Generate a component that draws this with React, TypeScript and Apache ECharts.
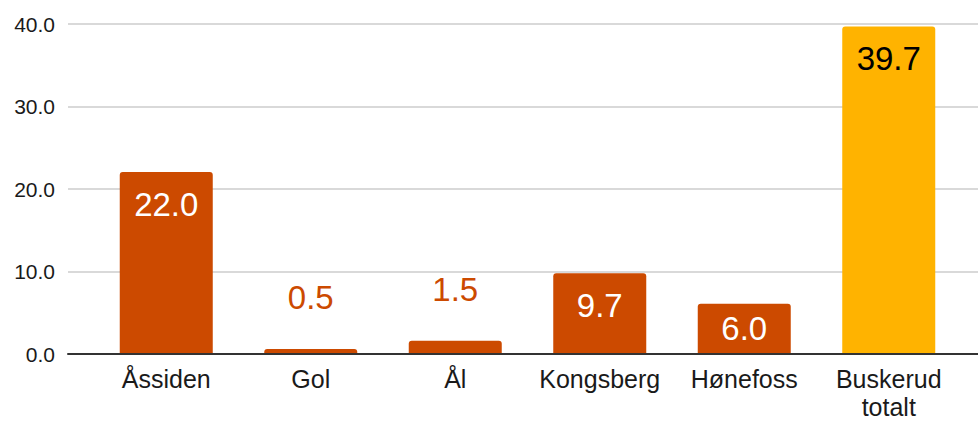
import React, { useEffect, useRef } from "react";
import * as echarts from "echarts";

const categories = ["Åssiden", "Gol", "Ål", "Kongsberg", "Hønefoss", "Buskerud\ntotalt"];
const values = [22.0, 0.5, 1.5, 9.7, 6.0, 39.7];
const yTicks = [0, 10, 20, 30, 40];

const ORANGE = "#CC4A00";
const YELLOW = "#FFB300";
const FONT = "'Liberation Sans', Arial, sans-serif";

export default function App() {
  const ref = useRef<HTMLDivElement>(null);
  useEffect(() => {
    document.body.style.margin = "0";
    const chart = echarts.init(ref.current!, null, { renderer: "svg" });
    const last = values.length - 1;
    const data = values.map((v, i) => {
      const isTotal = i === last;
      let position: any = "insideTop";
      let distance = 16;
      let color = isTotal ? "#000000" : "#FFFFFF";
      if (v < 3) {
        position = "top";
        distance = 35;
        color = ORANGE;
      } else if (v < 8) {
        position = "inside";
        distance = 5;
      }
      return {
        value: v,
        itemStyle: { color: isTotal ? YELLOW : ORANGE, borderRadius: [3, 3, 0, 0] },
        label: { show: true, position, distance, color },
      };
    });
    chart.setOption({
      animation: false,
      textStyle: { fontFamily: FONT },
      grid: [
        { left: 68, right: 0, top: 24, bottom: 67 },
        { left: 94, right: 17, top: 24, bottom: 67 },
      ],
      xAxis: [
        {
          gridIndex: 0,
          type: "value",
          min: 0,
          max: 1,
          axisLine: { show: true, onZero: false, lineStyle: { color: "#333333", width: 2 } },
          axisTick: { show: false },
          axisLabel: { show: false },
          splitLine: { show: false },
          z: 5,
        },
        {
          gridIndex: 1,
          type: "category",
          data: categories,
          axisLine: { show: false },
          axisTick: { show: false },
          axisLabel: {
            color: "#1A1A1A",
            fontSize: 25,
            fontFamily: FONT,
            margin: 12,
            lineHeight: 28,
            interval: 0,
          },
        },
      ],
      yAxis: [
        {
          gridIndex: 0,
          type: "value",
          min: yTicks[0],
          max: yTicks[yTicks.length - 1],
          interval: 10,
          axisLine: { show: false },
          axisTick: { show: false },
          axisLabel: {
            color: "#1A1A1A",
            fontSize: 21,
            fontFamily: FONT,
            margin: 13,
            formatter: (v: number) => v.toFixed(1),
          },
          splitLine: { show: true, lineStyle: { color: "#CCCCCC", width: 1.5 } },
        },
        {
          gridIndex: 1,
          type: "value",
          min: yTicks[0],
          max: yTicks[yTicks.length - 1],
          interval: 10,
          show: false,
          splitLine: { show: false },
        },
      ],
      series: [
        {
          type: "bar",
          xAxisIndex: 1,
          yAxisIndex: 1,
          barWidth: 93,
          data,
          label: {
            show: true,
            fontSize: 33,
            fontFamily: FONT,
            formatter: (p: any) => Number(p.value).toFixed(1),
          },
          z: 3,
        },
      ],
    });
    return () => chart.dispose();
  }, []);
  return <div ref={ref} style={{ width: 978, height: 421 }} />;
}
